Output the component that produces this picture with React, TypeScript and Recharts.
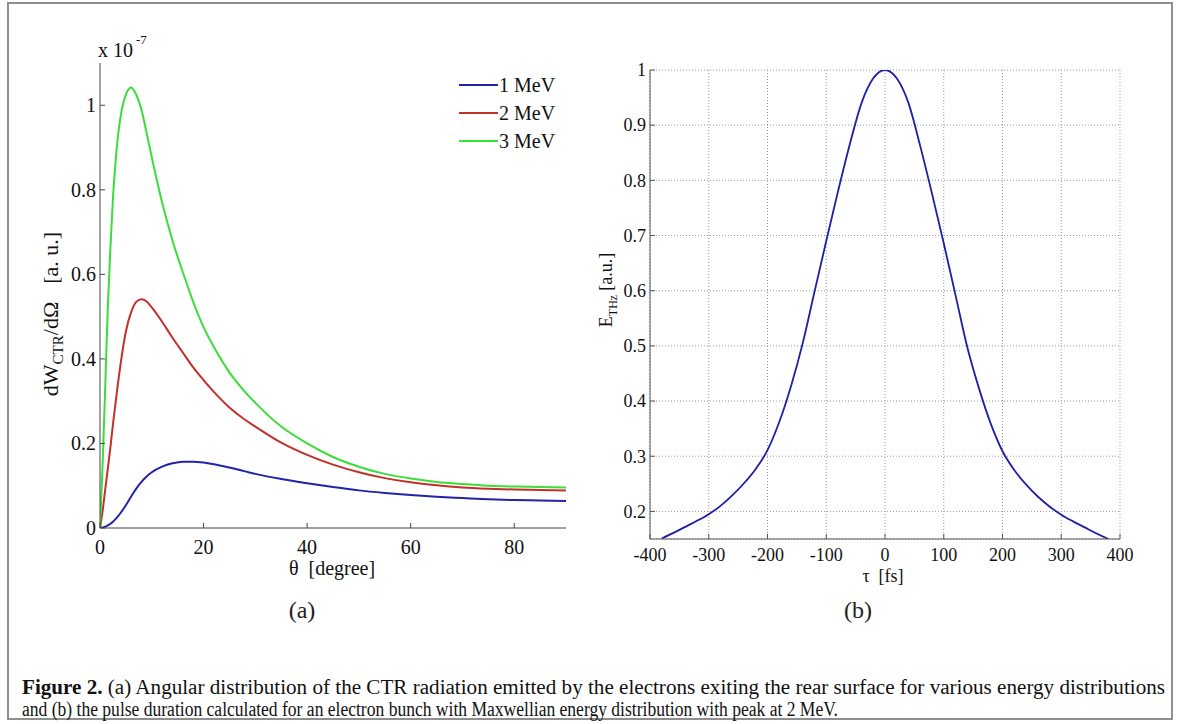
import React from 'react';
import { LineChart, Line, XAxis, YAxis, CartesianGrid, Legend } from 'recharts';

const FONT = '"Liberation Serif", "Times New Roman", serif';

// ---------- Panel (a) data ----------
const thetaDeg = [0, 0.5, 1, 1.5, 2, 2.5, 3, 3.5, 4, 5, 6, 7, 8, 9, 10, 12, 14, 16, 18, 20, 22, 25, 28, 30, 35, 40, 45, 50, 55, 60, 65, 70, 75, 80, 85, 90];
const mev1 = [0, 0.001, 0.003, 0.006, 0.01, 0.015, 0.021, 0.028, 0.036, 0.054, 0.074, 0.093, 0.109, 0.122, 0.132, 0.145, 0.153, 0.157, 0.157, 0.155, 0.151, 0.143, 0.134, 0.128, 0.116, 0.106, 0.097, 0.089, 0.083, 0.078, 0.074, 0.071, 0.068, 0.066, 0.065, 0.064];
const mev2 = [0, 0.04, 0.09, 0.14, 0.19, 0.245, 0.295, 0.345, 0.39, 0.465, 0.51, 0.535, 0.541, 0.536, 0.522, 0.488, 0.45, 0.415, 0.38, 0.35, 0.322, 0.285, 0.256, 0.24, 0.202, 0.173, 0.15, 0.132, 0.118, 0.108, 0.101, 0.096, 0.093, 0.091, 0.09, 0.089];
const mev3 = [0, 0.15, 0.33, 0.52, 0.66, 0.78, 0.865, 0.93, 0.975, 1.025, 1.042, 1.025, 0.99, 0.935, 0.877, 0.77, 0.68, 0.605, 0.535, 0.475, 0.428, 0.368, 0.322, 0.296, 0.24, 0.2, 0.168, 0.145, 0.128, 0.117, 0.109, 0.104, 0.1, 0.098, 0.097, 0.096];
const seriesNames = ['1 MeV', '2 MeV', '3 MeV'];
const xTicksA = [0, 20, 40, 60, 80];
const yTicksA = [0, 0.2, 0.4, 0.6, 0.8, 1];

// ---------- Panel (b) data ----------
const tauFs = [-380, -360, -340, -320, -300, -280, -260, -240, -220, -200, -180, -160, -140, -120, -100, -80, -60, -40, -20, 0, 20, 40, 60, 80, 100, 120, 140, 160, 180, 200, 220, 240, 260, 280, 300, 320, 340, 360, 380];
const eThz = [0.151, 0.161, 0.172, 0.183, 0.195, 0.21, 0.229, 0.251, 0.277, 0.311, 0.362, 0.427, 0.505, 0.598, 0.69, 0.78, 0.865, 0.94, 0.985, 1.0, 0.985, 0.94, 0.862, 0.776, 0.686, 0.592, 0.498, 0.423, 0.359, 0.309, 0.275, 0.249, 0.227, 0.209, 0.194, 0.182, 0.171, 0.16, 0.15];
const xTicksB = [-400, -300, -200, -100, 0, 100, 200, 300, 400];
const yTicksB = [0.2, 0.3, 0.4, 0.5, 0.6, 0.7, 0.8, 0.9, 1];

const dataA = thetaDeg.map((t, i) => ({ theta: t, m1: mev1[i], m2: mev2[i], m3: mev3[i] }));
const dataB = tauFs.map((t, i) => ({ tau: t, e: eThz[i] }));

const COL1 = '#2323a8';
const COL2 = '#c2302c';
const COL3 = '#3ade3a';
const BOX_A = '#444';
const BOX_B = '#555';

type TickOpts = { label: boolean; dir: number; fontSize: number; offset: number; stroke: string; len: number };

const makeXTick = (o: TickOpts) => (props: any) => {
  const { x, y, payload } = props;
  return (
    <g>
      <line x1={x} x2={x} y1={y} y2={y + o.dir * o.len} stroke={o.stroke} strokeWidth={1} />
      {o.label && (
        <text x={x} y={y + o.offset} textAnchor="middle" fontFamily={FONT} fontSize={o.fontSize} fill="#111">
          {String(payload.value)}
        </text>
      )}
    </g>
  );
};

const makeYTick = (o: TickOpts) => (props: any) => {
  const { x, y, payload } = props;
  return (
    <g>
      <line x1={x} x2={x + o.dir * o.len} y1={y} y2={y} stroke={o.stroke} strokeWidth={1} />
      {o.label && (
        <text x={x - o.offset} y={y} dy="0.35em" textAnchor="end" fontFamily={FONT} fontSize={o.fontSize} fill="#111">
          {String(payload.value)}
        </text>
      )}
    </g>
  );
};

const renderLegend = (props: any) => {
  const payload = props.payload || [];
  return (
    <div style={{ fontFamily: FONT, fontSize: 20, color: '#111', lineHeight: '28px' }}>
      {payload.map((entry: any) => (
        <div key={entry.value} style={{ display: 'flex', alignItems: 'center', height: 28 }}>
          <svg width={39} height={4} style={{ display: 'block' }}>
            <line x1={0} x2={39} y1={2} y2={2} stroke={entry.color} strokeWidth={2} />
          </svg>
          <span style={{ marginLeft: 1 }}>{entry.value}</span>
        </div>
      ))}
    </div>
  );
};

const caption1 = 'Angular distribution of the CTR radiation emitted by the electrons exiting the rear surface for various energy distributions';
const caption2 = 'and (b) the pulse duration calculated for an electron bunch with Maxwellian energy distribution with peak at 2 MeV.';

export default function App() {
  return (
    <div style={{ position: 'absolute', left: 0, top: 0, width: 1182, height: 724, background: '#fff', overflow: 'hidden' }}>
      <svg width={1182} height={724} style={{ position: 'absolute', left: 0, top: 0 }}>
        <rect x={8} y={3} width={1164} height={716} fill="none" stroke="#8f8f8f" strokeWidth={2} />
        {/* exponent */}
        <text x={98} y={57} fontFamily={FONT} fontSize={20} fill="#111">x 10</text>
        <text x={136} y={44} fontFamily={FONT} fontSize={13} fill="#111">-7</text>
        {/* y title a */}
        <text transform="translate(58,314) rotate(-90)" textAnchor="middle" fontFamily={FONT} fontSize={22} fill="#111">
          <tspan>dW</tspan>
          <tspan fontSize={15} dy={5}>CTR</tspan>
          <tspan dy={-5}>/dΩ</tspan>
          <tspan dx={18}>[a. u.]</tspan>
        </text>
        {/* x title a */}
        <text x={332} y={575} textAnchor="middle" fontFamily={FONT} fontSize={20} fill="#111">
          <tspan>θ</tspan>
          <tspan dx={10}>[degree]</tspan>
        </text>
        <text x={302} y={618} textAnchor="middle" fontFamily={FONT} fontSize={24} fill="#222">(a)</text>
        {/* y title b */}
        <text transform="translate(612,290) rotate(-90)" textAnchor="middle" fontFamily={FONT} fontSize={18} fill="#111">
          <tspan>E</tspan>
          <tspan fontSize={12} dy={5}>THz</tspan>
          <tspan dy={-5} dx={4}>[a.u.]</tspan>
        </text>
        <text x={883} y={582} textAnchor="middle" fontFamily={FONT} fontSize={18} fill="#111">
          <tspan>τ</tspan>
          <tspan dx={9}>[fs]</tspan>
        </text>
        <text x={858} y={618} textAnchor="middle" fontFamily={FONT} fontSize={24} fill="#222">(b)</text>
        {/* caption */}
        <text x={22} y={694} fontFamily={FONT} fontSize={20} fill="#111" textLength={1143} lengthAdjust="spacingAndGlyphs">
          <tspan fontWeight="bold">Figure 2.</tspan>
          <tspan> (a) {caption1}</tspan>
        </text>
        <text x={22} y={716} fontFamily={FONT} fontSize={20} fill="#111" textLength={816} lengthAdjust="spacingAndGlyphs">
          {caption2}
        </text>
      </svg>

      {/* Panel (a) */}
      <div style={{ position: 'absolute', left: 0, top: 0 }}>
        <LineChart width={590} height={600} data={dataA} margin={{ top: 63, right: 24, bottom: 42, left: 0 }}>
          <XAxis
            xAxisId={0}
            dataKey="theta"
            type="number"
            domain={[0, 90]}
            ticks={xTicksA}
            interval={0}
            allowDataOverflow
            height={30}
            tickSize={0}
            tickMargin={0}
            tickLine={false}
            axisLine={{ stroke: BOX_A }}
            tick={makeXTick({ label: true, dir: -1, fontSize: 20, offset: 26, stroke: BOX_A, len: 5 })}
          />
          <XAxis
            xAxisId="top"
            orientation="top"
            dataKey="theta"
            type="number"
            domain={[0, 90]}
            ticks={xTicksA}
            interval={0}
            allowDataOverflow
            height={0}
            tickSize={0}
            tickMargin={0}
            tickLine={false}
            axisLine={{ stroke: BOX_A }}
            tick={makeXTick({ label: false, dir: 1, fontSize: 20, offset: 0, stroke: BOX_A, len: 5 })}
          />
          <YAxis
            yAxisId={0}
            type="number"
            domain={[0, 1.1]}
            ticks={yTicksA}
            interval={0}
            allowDataOverflow
            width={100}
            tickSize={0}
            tickMargin={0}
            tickLine={false}
            axisLine={{ stroke: BOX_A }}
            tick={makeYTick({ label: true, dir: 1, fontSize: 20, offset: 4, stroke: BOX_A, len: 5 })}
          />
          <YAxis
            yAxisId="right"
            orientation="right"
            type="number"
            domain={[0, 1.1]}
            ticks={yTicksA}
            interval={0}
            allowDataOverflow
            width={0}
            tickSize={0}
            tickMargin={0}
            tickLine={false}
            axisLine={{ stroke: BOX_A }}
            tick={makeYTick({ label: false, dir: -1, fontSize: 20, offset: 0, stroke: BOX_A, len: 5 })}
          />
          <Legend
            layout="vertical"
            align="center"
            verticalAlign="middle"
            content={renderLegend}
            wrapperStyle={{ left: 459, top: 71, width: 110, height: 84 }}
          />
          <Line name={seriesNames[0]} dataKey="m1" type="monotone" stroke={COL1} strokeWidth={2} dot={false} isAnimationActive={false} />
          <Line name={seriesNames[1]} dataKey="m2" type="monotone" stroke={COL2} strokeWidth={2} dot={false} isAnimationActive={false} />
          <Line name={seriesNames[2]} dataKey="m3" type="monotone" stroke={COL3} strokeWidth={2} dot={false} isAnimationActive={false} />
        </LineChart>
      </div>

      {/* Panel (b) */}
      <div style={{ position: 'absolute', left: 590, top: 0 }}>
        <LineChart width={592} height={600} data={dataB} margin={{ top: 70, right: 62, bottom: 31, left: 0 }}>
          <CartesianGrid stroke="#9a9a9a" strokeDasharray="1 2" />
          <XAxis
            xAxisId={0}
            dataKey="tau"
            type="number"
            domain={[-400, 400]}
            ticks={xTicksB}
            interval={0}
            allowDataOverflow
            height={30}
            tickSize={0}
            tickMargin={0}
            tickLine={false}
            axisLine={{ stroke: BOX_B }}
            tick={makeXTick({ label: true, dir: -1, fontSize: 18, offset: 22, stroke: BOX_B, len: 5 })}
          />
          <XAxis
            xAxisId="top"
            orientation="top"
            dataKey="tau"
            type="number"
            domain={[-400, 400]}
            ticks={xTicksB}
            interval={0}
            allowDataOverflow
            height={0}
            tickSize={0}
            tickMargin={0}
            tickLine={false}
            axisLine={{ stroke: BOX_B }}
            tick={makeXTick({ label: false, dir: 1, fontSize: 18, offset: 0, stroke: BOX_B, len: 5 })}
          />
          <YAxis
            yAxisId={0}
            type="number"
            domain={[0.15, 1]}
            ticks={yTicksB}
            interval={0}
            allowDataOverflow
            width={60}
            tickSize={0}
            tickMargin={0}
            tickLine={false}
            axisLine={{ stroke: BOX_B }}
            tick={makeYTick({ label: true, dir: 1, fontSize: 18, offset: 4, stroke: BOX_B, len: 5 })}
          />
          <YAxis
            yAxisId="right"
            orientation="right"
            type="number"
            domain={[0.15, 1]}
            ticks={yTicksB}
            interval={0}
            allowDataOverflow
            width={0}
            tickSize={0}
            tickMargin={0}
            tickLine={false}
            axisLine={{ stroke: BOX_B }}
            tick={makeYTick({ label: false, dir: -1, fontSize: 18, offset: 0, stroke: BOX_B, len: 5 })}
          />
          <Line dataKey="e" type="monotone" stroke="#1e1ea6" strokeWidth={1.8} dot={false} isAnimationActive={false} />
        </LineChart>
      </div>
    </div>
  );
}
